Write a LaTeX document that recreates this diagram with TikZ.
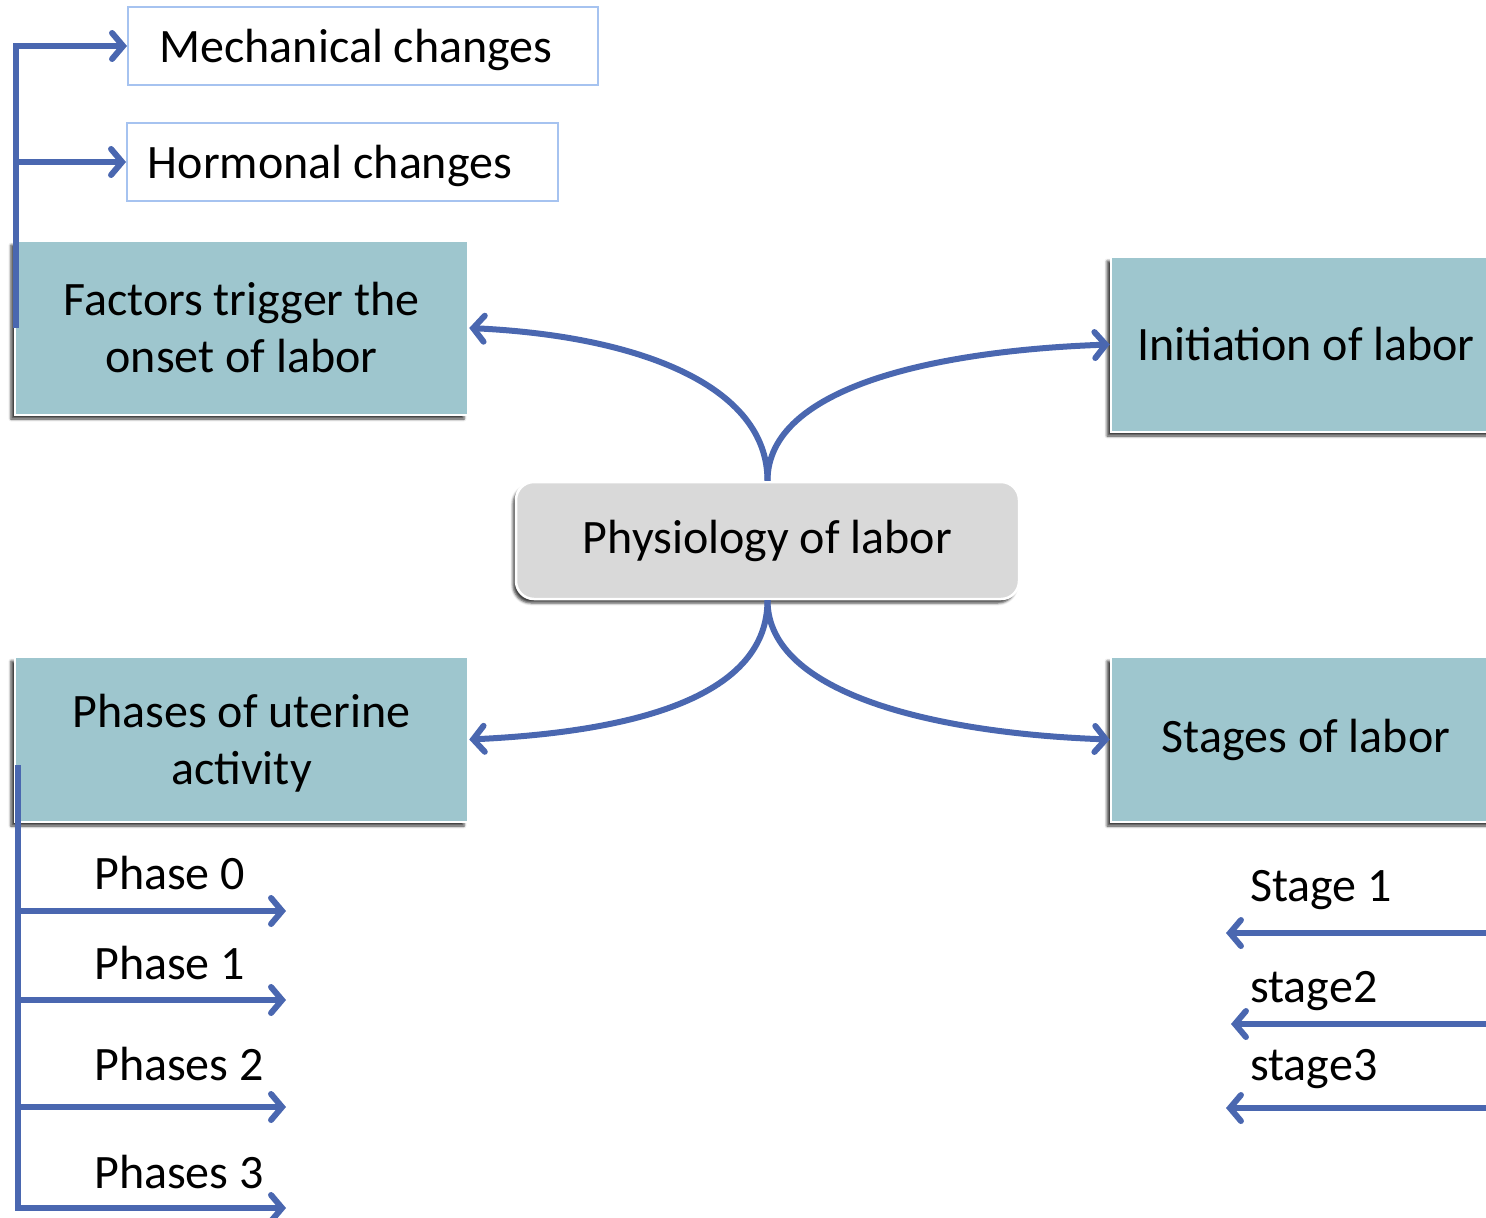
\documentclass[tikz,border=0pt]{standalone}
\usepackage{fontspec}
\setmainfont{Carlito}
\usetikzlibrary{arrows.meta,shadows.blur}
\definecolor{connblue}{RGB}{74,103,176}
\definecolor{tealbox}{RGB}{158,198,206}
\definecolor{greybox}{RGB}{217,217,217}
\definecolor{lightborder}{RGB}{166,195,240}
\begin{document}
\begin{tikzpicture}[x=1pt,y=-1pt,
  every node/.style={font=\fontsize{48}{57}\selectfont, inner sep=0pt, align=center},
  topic/.style={draw=white, line width=2.5pt, fill=tealbox, minimum width=453pt,
    blur shadow={shadow xshift=-4pt, shadow yshift=-4pt, shadow opacity=75, shadow blur radius=2.5pt}},
  central/.style={draw=white, line width=2.5pt, fill=greybox, rounded corners=18pt,
    minimum width=503pt, minimum height=117pt,
    blur shadow={shadow xshift=-3pt, shadow yshift=-4pt, shadow opacity=75, shadow blur radius=2.5pt}},
  subbox/.style={draw=lightborder, line width=2pt, fill=white, minimum height=78pt},
  conn/.style={draw=connblue, line width=6pt, line cap=butt,
    -{Straight Barb[length=11pt,width=26pt,line cap=round]}},
  lbl/.style={anchor=base west}]
\useasboundingbox (0,0) rectangle (1486,1218);
% boxes
\node[subbox, minimum width=470pt] (mech) at (363,46) {};
\node (mecht) at (356,50) {Mechanical changes};
\node[subbox, minimum width=431pt] (horm) at (342.5,162) {};
\node (hormt) at (330,166) {Hormonal changes};
\node[topic, minimum height=174pt] (fac) at (241.5,328) {Factors trigger the\\onset of labor};
\node[topic, minimum width=390pt, minimum height=175pt] (ini) at (1306,344.5) {Initiation of labor};
\node[topic, minimum height=165pt] (pha) at (241.5,739.5) {\strut Phases of uterine\\activity};
\node[topic, minimum width=390pt, minimum height=165pt] (sta) at (1306,739.5) {Stages of labor};
\node[central] (phys) at (767.5,540.5) {Physiology of labor};
% main connectors
\draw[conn] (phys.north) .. controls +(0,-95) and +(170,8) .. (fac.east);
\draw[conn] (phys.north) .. controls +(0,-95) and +(-170,6) .. (ini.west);
\draw[conn] (phys.south) .. controls +(0,95) and +(170,-8) .. (pha.east);
\draw[conn] (phys.south) .. controls +(0,95) and +(-170,-6) .. (sta.west);
% top-left bracket
\coordinate (t0) at (16,328);
\draw[conn] (t0) |- (mech.west);
\draw[conn] (t0) |- (horm.west);
% bottom-left bracket
\coordinate (b0) at (18,765);
\coordinate (p0) at (286,911);
\coordinate (p1) at (286,1000);
\coordinate (p2) at (286,1107);
\coordinate (p3) at (286,1208);
\draw[conn] (b0) |- (p0);
\draw[conn] (b0) |- (p1);
\draw[conn] (b0) |- (p2);
\draw[conn] (b0) |- (p3);
\node[lbl] (l0) at (94,889) {Phase 0};
\node[lbl] (l1) at (94,979) {Phase 1};
\node[lbl] (l2) at (94,1080) {Phases 2};
\node[lbl] (l3) at (94,1188) {Phases 3};
% right arrows
\coordinate (s0) at (1500,933);
\coordinate (s1) at (1500,1024);
\coordinate (s2) at (1500,1108);
\coordinate (e0) at (1226,933);
\coordinate (e1) at (1231,1024);
\coordinate (e2) at (1226,1108);
\draw[conn] (s0) -- (e0);
\draw[conn] (s1) -- (e1);
\draw[conn] (s2) -- (e2);
\node[lbl] (m0) at (1250,901) {Stage 1};
\node[lbl] (m1) at (1250,1002) {stage2};
\node[lbl] (m2) at (1250,1080) {stage3};
\end{tikzpicture}
\end{document}
